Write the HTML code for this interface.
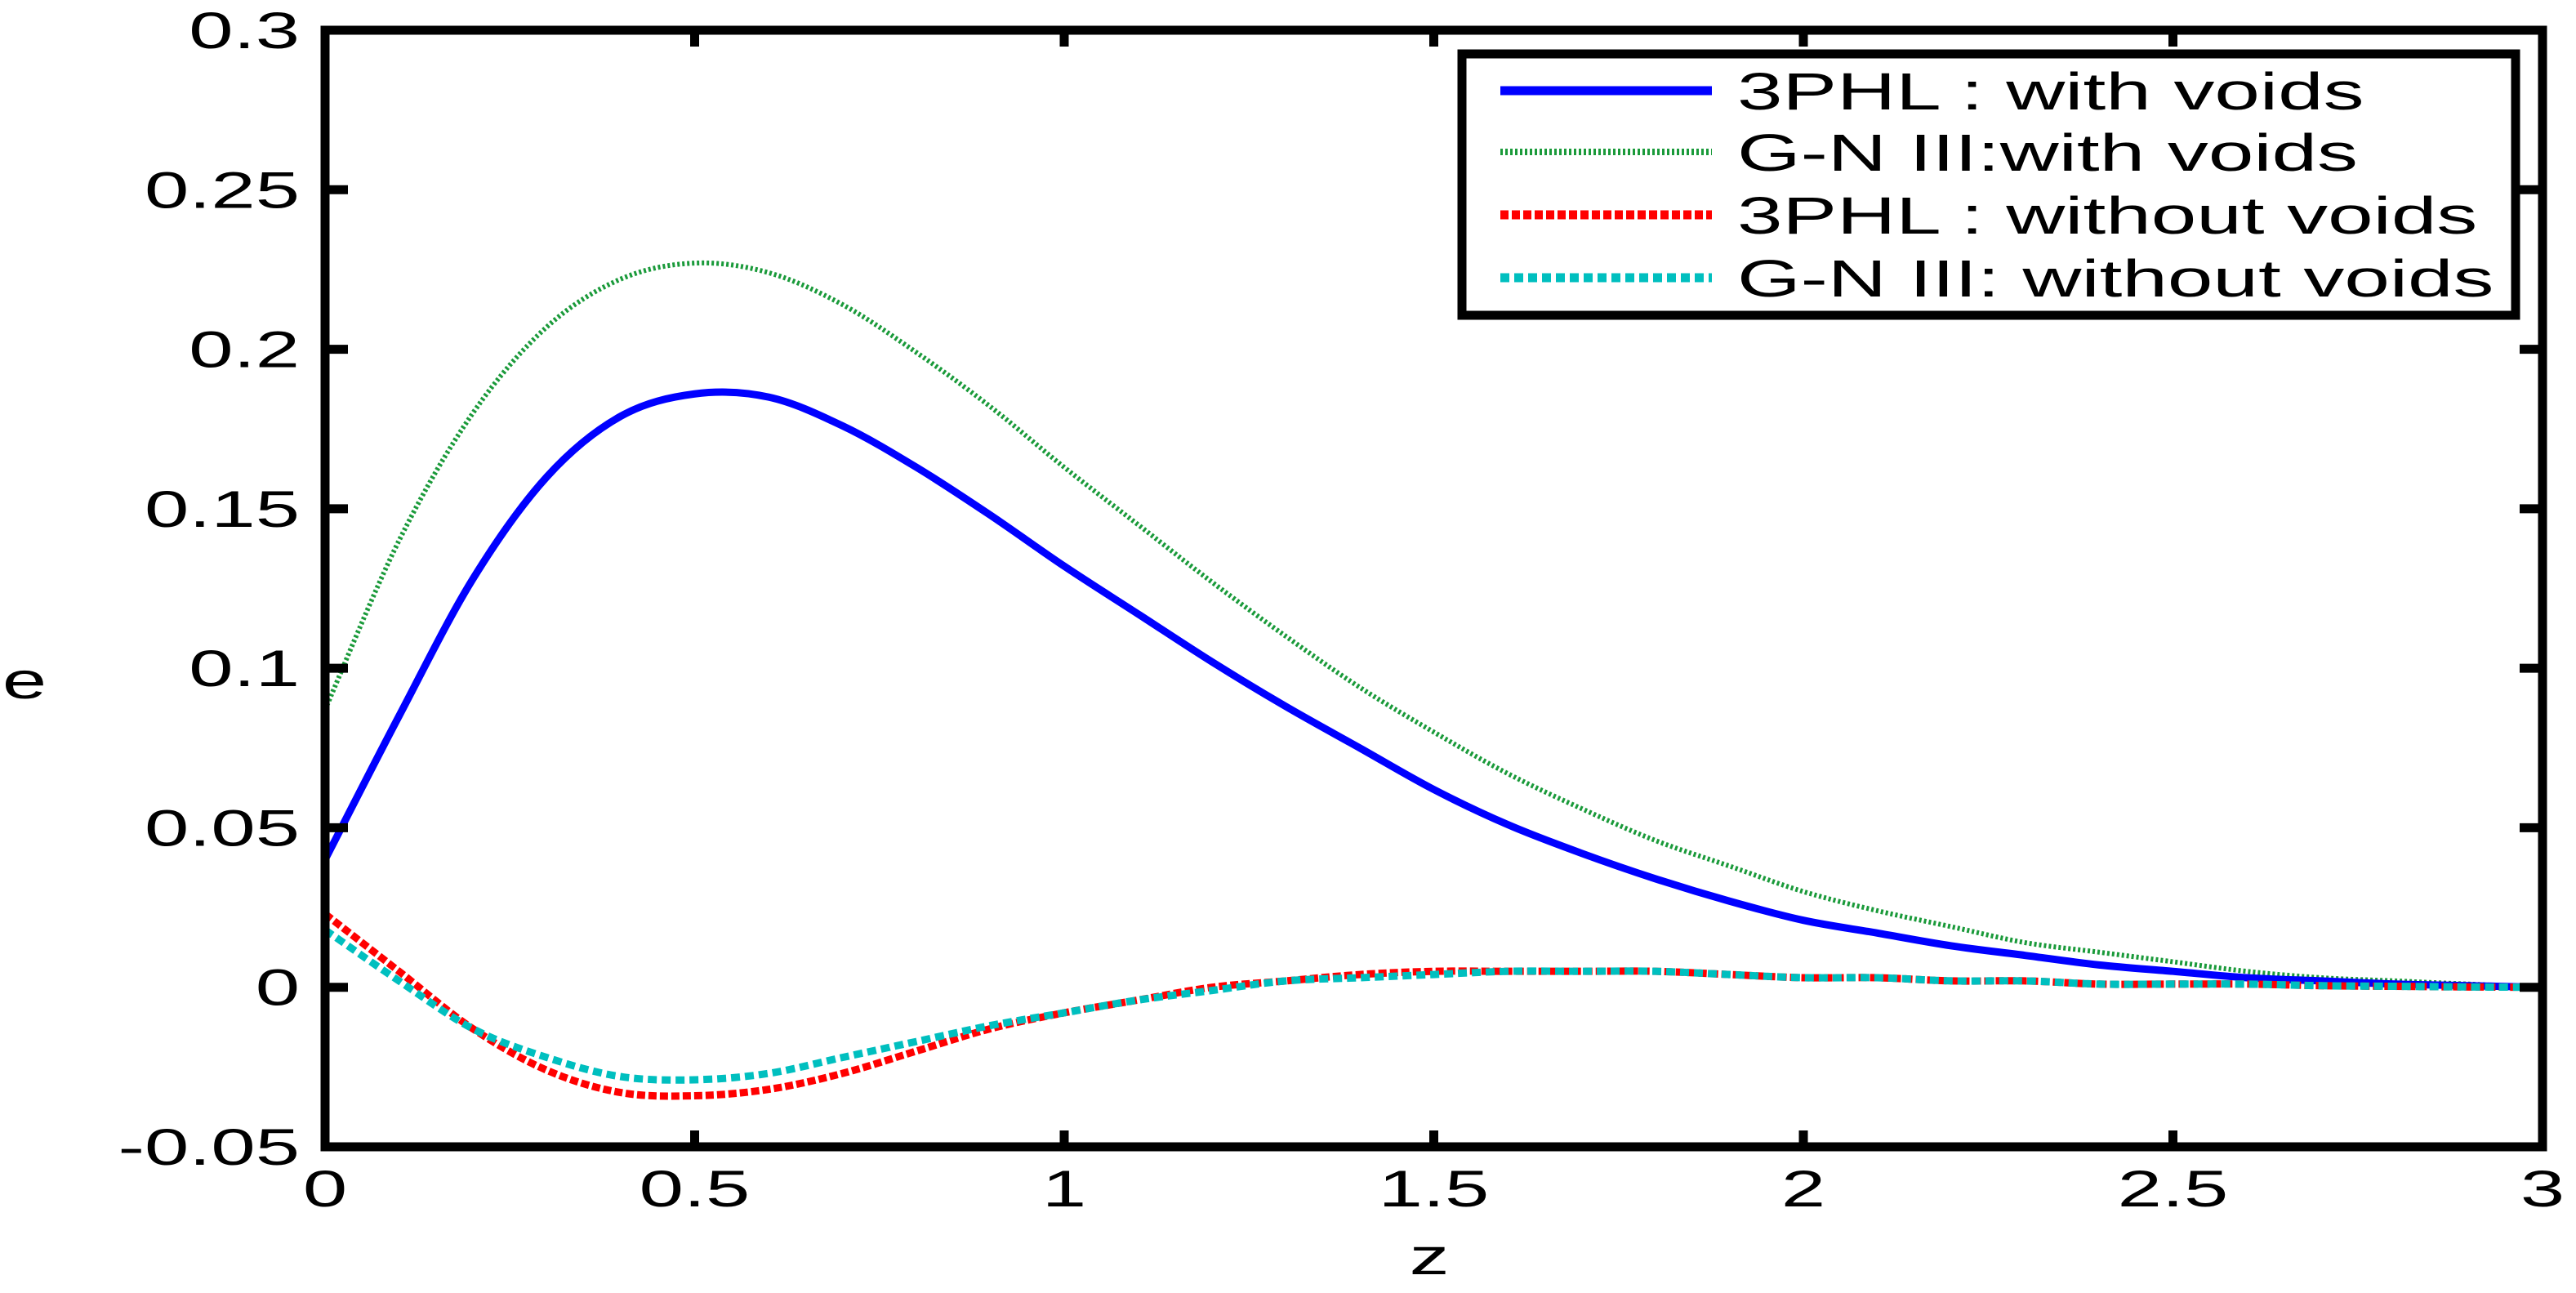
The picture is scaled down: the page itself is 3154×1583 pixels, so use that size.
<!DOCTYPE html>
<html><head><meta charset="utf-8"><style>
html,body{margin:0;padding:0;background:#fff;}
svg{display:block;}
text{font-family:"Liberation Sans",Arial,sans-serif;fill:#000;}
</style></head><body>
<svg id="chart" width="3154" height="1583" viewBox="0 0 3154 1583" xmlns="http://www.w3.org/2000/svg">
<rect x="0" y="0" width="3154" height="1583" fill="#fff"/>
<g id="series"></g>
<g id="axes"></g>
<g id="legend"></g>
</svg>
<script>
const zValues = [0,0.1,0.2,0.3,0.4,0.5,0.6,0.7,0.8,0.9,1.0,1.1,1.2,1.3,1.4,1.5,1.6,1.7,1.8,1.9,2.0,2.1,2.2,2.3,2.4,2.5,2.6,2.7,2.8,2.9,3.0];
const blueWithVoids = [0.040,0.085,0.128,0.160,0.179,0.186,0.185,0.176,0.163,0.148,0.132,0.117,0.102,0.088,0.075,0.062,0.051,0.042,0.034,0.027,0.021,0.017,0.013,0.010,0.007,0.005,0.003,0.002,0.001,0.0005,0.0];
const greenWithVoids = [0.087,0.140,0.180,0.207,0.222,0.227,0.224,0.214,0.199,0.182,0.163,0.145,0.127,0.110,0.094,0.080,0.067,0.056,0.046,0.038,0.030,0.024,0.019,0.014,0.011,0.008,0.005,0.003,0.002,0.001,0.0];
const redWithoutVoids = [0.023,0.005,-0.013,-0.026,-0.033,-0.034,-0.032,-0.027,-0.020,-0.013,-0.008,-0.004,0.000,0.002,0.004,0.005,0.005,0.005,0.005,0.004,0.003,0.003,0.002,0.002,0.001,0.001,0.001,0.0005,0.0003,0.0001,0.0];
const cyanWithoutVoids = [0.018,0.002,-0.013,-0.022,-0.028,-0.029,-0.027,-0.022,-0.017,-0.012,-0.008,-0.004,-0.001,0.002,0.003,0.004,0.005,0.005,0.005,0.004,0.003,0.003,0.002,0.002,0.001,0.001,0.001,0.0005,0.0003,0.0001,0.0];
const xTicks = [0,0.5,1,1.5,2,2.5,3];
const xTickLabels = ["0","0.5","1","1.5","2","2.5","3"];
const yTicks = [-0.05,0,0.05,0.1,0.15,0.2,0.25,0.3];
const yTickLabels = ["-0.05","0","0.05","0.1","0.15","0.2","0.25","0.3"];
const legendLabels = ["3PHL : with voids","G-N III:with voids","3PHL : without voids","G-N III: without voids"];

const NS="http://www.w3.org/2000/svg";
const L=398,R=3113,T=37,B=1404;
const xMin=0,xMax=3,yMin=-0.05,yMax=0.3;
const SX=1.55;
function xs(v){return L+(v-xMin)/(xMax-xMin)*(R-L);}
function ys(v){return B-(v-yMin)/(yMax-yMin)*(B-T);}
function mk(tag,attrs,parent){const e=document.createElementNS(NS,tag);for(const k in attrs)e.setAttribute(k,attrs[k]);parent.appendChild(e);return e;}
function smoothPath(xsArr,ysArr){
  const p=xsArr.map((x,i)=>[xs(x),ys(ysArr[i])]);
  let d="M"+p[0][0]+","+p[0][1];
  for(let i=0;i<p.length-1;i++){
    const p0=p[Math.max(0,i-1)],p1=p[i],p2=p[i+1],p3=p[Math.min(p.length-1,i+2)];
    const c1=[p1[0]+(p2[0]-p0[0])/6,p1[1]+(p2[1]-p0[1])/6];
    const c2=[p2[0]-(p3[0]-p1[0])/6,p2[1]-(p3[1]-p1[1])/6];
    d+=" C"+c1[0]+","+c1[1]+" "+c2[0]+","+c2[1]+" "+p2[0]+","+p2[1];
  }
  return d;
}
const styles=[
  {data:greenWithVoids,color:"#1a9a3a",w:6,dash:"3,3",name:"gn-with-voids-line"},
  {data:blueWithVoids,color:"#0000ff",w:9,dash:"",name:"3phl-with-voids-line"},
  {data:redWithoutVoids,color:"#ff0000",w:9,dash:"10,4",name:"3phl-without-voids-line"},
  {data:cyanWithoutVoids,color:"#00bfbf",w:9,dash:"11,6",name:"gn-without-voids-line"}
];
const sg=document.getElementById("series");
styles.forEach(s=>{
  const p=mk("path",{d:smoothPath(zValues,s.data),fill:"none",stroke:s.color,"stroke-width":s.w,"stroke-dasharray":s.dash},sg);
  
  
});
const ag=document.getElementById("axes");
const frame=mk("rect",{x:L,y:T,width:R-L,height:B-T,fill:"none",stroke:"#000","stroke-width":11},ag);


xTicks.forEach((v,i)=>{
  const x=xs(v);
  mk("line",{x1:x,y1:B,x2:x,y2:B-20,stroke:"#000","stroke-width":11},ag);
  mk("line",{x1:x,y1:T,x2:x,y2:T+20,stroke:"#000","stroke-width":11},ag);
  const t=mk("text",{transform:"translate("+x+",1477) scale("+SX+",1)","text-anchor":"middle","font-size":63},ag);
  t.textContent=xTickLabels[i];
  
  
});
yTicks.forEach((v,i)=>{
  const y=ys(v);
  mk("line",{x1:L,y1:y,x2:L+28,y2:y,stroke:"#000","stroke-width":11},ag);
  mk("line",{x1:R,y1:y,x2:R-28,y2:y,stroke:"#000","stroke-width":11},ag);
  const t=mk("text",{transform:"translate(367,"+(y+22)+") scale("+SX+",1)","text-anchor":"end","font-size":63},ag);
  t.textContent=yTickLabels[i];
  
  
});
const xt=mk("text",{transform:"translate(1750,1560) scale("+SX+",1)","text-anchor":"middle","font-size":63},ag);
xt.textContent="z";


const yt=mk("text",{transform:"translate(30,855) scale("+SX+",1)","text-anchor":"middle","font-size":63},ag);
yt.textContent="e";



const lg=document.getElementById("legend");
const box=mk("rect",{x:1790,y:66,width:1290,height:320,fill:"#fff",stroke:"#000","stroke-width":11},lg);


const legOrder=[1,0,2,3];
const baselines=[134,209,286,363];
legendLabels.forEach((lab,i)=>{
  const s=styles[legOrder[i]];
  const ly=baselines[i]-23;
  const ln=mk("line",{x1:1837,y1:ly,x2:2096,y2:ly,stroke:s.color,"stroke-width":s.w+2,"stroke-dasharray":s.dash},lg);
  
  
  const t=mk("text",{transform:"translate(2127,"+baselines[i]+") scale(1.56,1)","font-size":64},lg);
  t.textContent=lab;
  
  
});
</script>
</body></html>
